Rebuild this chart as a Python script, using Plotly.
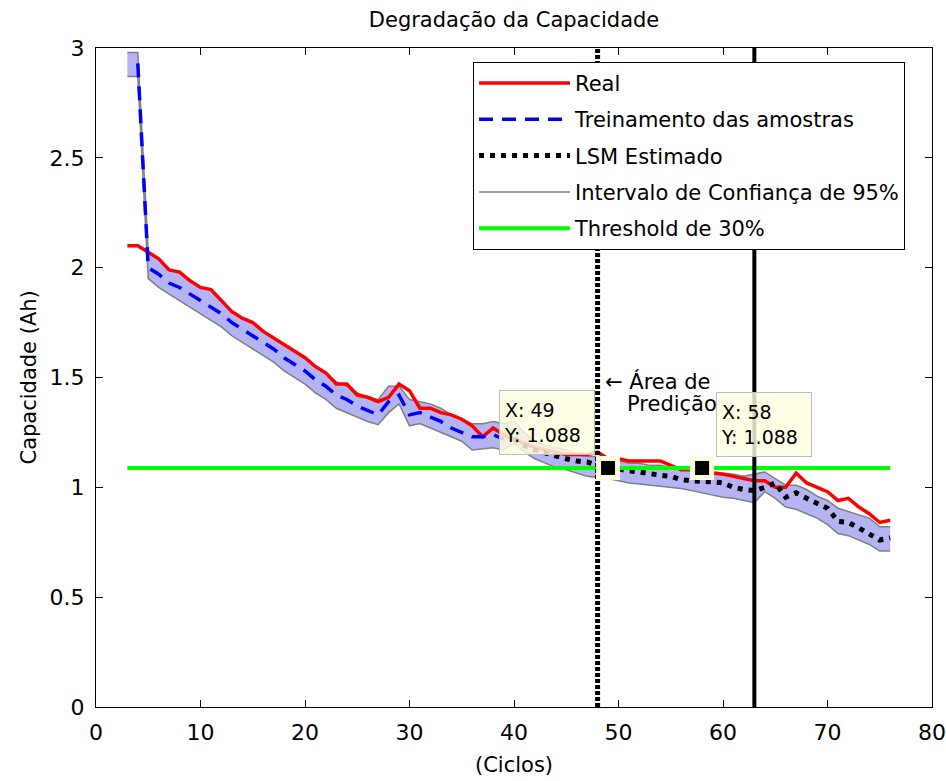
import plotly.graph_objects as go

# ---------------- data ----------------
cycles = list(range(3, 77))

real_cap = [2.10, 2.10, 2.07, 2.04, 1.99, 1.98, 1.94, 1.91, 1.90, 1.85,
            1.80, 1.77, 1.75, 1.71, 1.68, 1.65, 1.62, 1.59, 1.55, 1.52,
            1.47, 1.47, 1.42, 1.41, 1.39, 1.41, 1.47, 1.44, 1.36, 1.36,
            1.34, 1.33, 1.31, 1.28, 1.23, 1.27, 1.24, 1.22, 1.20, 1.18,
            1.17, 1.16, 1.15, 1.15, 1.15, 1.16, 1.13, 1.13, 1.12, 1.12,
            1.12, 1.12, 1.10, 1.08, 1.08, 1.07, 1.065, 1.06, 1.05, 1.04,
            1.03, 1.03, 1.00, 1.00, 1.065, 1.02, 1.00, 0.98, 0.94, 0.95,
            0.91, 0.88, 0.84, 0.85]

train_cycles = list(range(4, 40))
train_cap = [2.93, 2.00, 1.97, 1.93, 1.91, 1.88, 1.85, 1.82, 1.79, 1.75,
             1.72, 1.69, 1.66, 1.63, 1.59, 1.56, 1.53, 1.49, 1.46, 1.42,
             1.40, 1.37, 1.35, 1.33, 1.39, 1.42, 1.33, 1.34, 1.32, 1.30,
             1.27, 1.25, 1.23, 1.23, 1.24, 1.22]

lsm_cycles = list(range(40, 77))
lsm_cap = [1.22, 1.19, 1.17, 1.155, 1.14, 1.13, 1.12, 1.115, 1.10, 1.09,
           1.085, 1.075, 1.07, 1.06, 1.055, 1.05, 1.035, 1.03, 1.03, 1.025,
           1.02, 1.00, 0.99, 0.985, 1.00, 1.02, 0.955, 0.975, 0.95, 0.93,
           0.905, 0.845, 0.84, 0.815, 0.79, 0.76, 0.77]

ci_upper = [2.98, 2.98, 2.07, 2.04, 1.99, 1.98, 1.94, 1.91, 1.90, 1.85,
            1.80, 1.77, 1.75, 1.71, 1.68, 1.65, 1.62, 1.59, 1.55, 1.52,
            1.48, 1.46, 1.43, 1.41, 1.40, 1.46, 1.46, 1.40, 1.39, 1.38,
            1.36, 1.33, 1.31, 1.29, 1.29, 1.30, 1.29, 1.30, 1.25, 1.21,
            1.19, 1.18, 1.17, 1.15, 1.14, 1.14, 1.13, 1.12, 1.11, 1.11,
            1.10, 1.10, 1.09, 1.08, 1.08, 1.08, 1.07, 1.065, 1.06, 1.05,
            1.06, 1.07, 1.04, 1.01, 1.01, 0.99, 0.96, 0.94, 0.905, 0.89,
            0.875, 0.86, 0.82, 0.82]

ci_lower = [2.87, 2.87, 1.95, 1.91, 1.88, 1.85, 1.82, 1.79, 1.76, 1.73,
            1.69, 1.66, 1.63, 1.60, 1.57, 1.53, 1.50, 1.47, 1.43, 1.40,
            1.36, 1.34, 1.32, 1.30, 1.285, 1.34, 1.38, 1.28, 1.29, 1.27,
            1.25, 1.23, 1.21, 1.17, 1.175, 1.18, 1.17, 1.20, 1.16, 1.13,
            1.11, 1.09, 1.08, 1.065, 1.05, 1.045, 1.04, 1.03, 1.02, 1.015,
            1.01, 1.005, 1.00, 0.995, 0.985, 0.975, 0.965, 0.955, 0.95, 0.94,
            0.93, 0.98, 0.95, 0.91, 0.90, 0.88, 0.86, 0.83, 0.79, 0.78,
            0.76, 0.74, 0.71, 0.71]

threshold_x = [3, 76]
threshold_y = [1.088, 1.088]

pred_start = 48
pred_end = 63
tip_x = [49, 58]
tip_y = [1.088, 1.088]

x_ticks = [0, 10, 20, 30, 40, 50, 60, 70, 80]
y_ticks = [0, 0.5, 1, 1.5, 2, 2.5, 3]
y_ticktext = ["0", "0.5", "1", "1.5", "2", "2.5", "3"]

FONT = "DejaVu Sans"
FS = 21

fig = go.Figure()

# confidence band
fig.add_trace(go.Scatter(x=cycles, y=ci_lower, mode="lines",
                         line=dict(color="#808080", width=1.5),
                         showlegend=False, hoverinfo="skip"))
fig.add_trace(go.Scatter(x=cycles, y=ci_upper, mode="lines", fill="tonexty",
                         fillcolor="#b4b4f5",
                         line=dict(color="#808080", width=1.5),
                         showlegend=False, hoverinfo="skip"))

fig.add_trace(go.Scatter(x=cycles, y=real_cap, mode="lines", name="Real",
                         line=dict(color="#ff0000", width=3.5),
                         legendgroup="a", legendrank=1))
fig.add_trace(go.Scatter(x=train_cycles, y=train_cap, mode="lines",
                         name="Treinamento das amostras",
                         line=dict(color="#0000ff", width=3.5, dash="14px,9px"),
                         legendgroup="b", legendrank=2))
fig.add_trace(go.Scatter(x=lsm_cycles, y=lsm_cap, mode="lines",
                         name="LSM Estimado",
                         line=dict(color="#000000", width=5, dash="5px,6px"),
                         legendgroup="c", legendrank=3))
# legend proxy for the band
fig.add_trace(go.Scatter(x=[None], y=[None], mode="lines",
                         name="Intervalo de Confiança de 95%",
                         line=dict(color="#808080", width=1.5),
                         legendgroup="d", legendrank=4))
fig.add_trace(go.Scatter(x=threshold_x, y=threshold_y, mode="lines",
                         name="Threshold de 30%",
                         line=dict(color="#00ff00", width=4),
                         legendgroup="e", legendrank=5))

# prediction-area boundaries
fig.add_trace(go.Scatter(x=[pred_start, pred_start], y=[0, 3], mode="lines",
                         line=dict(color="#000000", width=5, dash="4px,2px"),
                         showlegend=False, hoverinfo="skip"))
fig.add_trace(go.Scatter(x=[pred_end, pred_end], y=[0, 3], mode="lines",
                         line=dict(color="#000000", width=4),
                         showlegend=False, hoverinfo="skip"))

# data tip markers
fig.add_trace(go.Scatter(x=tip_x, y=tip_y, mode="markers",
                         marker=dict(symbol="square", size=19, color="#000000",
                                     line=dict(color="#fffbe0", width=5)),
                         showlegend=False, hoverinfo="skip"))

annotations = [
    dict(text="(Ciclos)", xref="paper", yref="paper", x=0.5, y=-0.088,
         xanchor="center", yanchor="middle", showarrow=False,
         font=dict(family=FONT, size=FS, color="black")),
    dict(text="Capacidade (Ah)", xref="paper", yref="paper", x=-0.0813, y=0.5,
         xanchor="center", yanchor="middle", textangle=-90, showarrow=False,
         font=dict(family=FONT, size=FS, color="black")),
    dict(text="← Área de", x=48.5, y=1.48, xanchor="left", yanchor="middle",
         showarrow=False, font=dict(family=FONT, size=FS, color="black")),
    dict(text="Predição", x=50.6, y=1.379, xanchor="left", yanchor="middle",
         showarrow=False, font=dict(family=FONT, size=FS, color="black")),
]
for tx, ty, left, top in [(tip_x[0], tip_y[0], 38.56, 1.443),
                          (tip_x[1], tip_y[1], 59.33, 1.434)]:
    annotations.append(dict(
        text=f"X: {tx}<br>Y: {ty:.3f}", x=left, y=top, xanchor="left",
        yanchor="top", showarrow=False, align="left", valign="middle",
        width=86, height=55, borderpad=4, borderwidth=1,
        bordercolor="#bdbdbd", bgcolor="rgba(255,255,225,0.82)",
        font=dict(family=FONT, size=FS - 2, color="black")))

axis_common = dict(showline=True, linecolor="black", linewidth=1,
                   mirror="allticks", ticks="inside", ticklen=7,
                   tickcolor="black", showgrid=False, zeroline=False,
                   automargin=False,
                   tickfont=dict(family=FONT, size=FS + 1, color="black"))

fig.update_layout(
    width=946, height=781, autosize=False,
    margin=dict(l=96, r=14, t=48, b=74, autoexpand=False),
    paper_bgcolor="white", plot_bgcolor="white",
    title=dict(text="Degradação da Capacidade", x=0.5434, xanchor="center",
               y=1 - 20 / 781, yanchor="middle",
               font=dict(family=FONT, size=FS, color="black")),
    xaxis=dict(range=[0, 80], tickvals=x_ticks, ticklabelstandoff=6,
               **axis_common),
    yaxis=dict(range=[0, 3], tickvals=y_ticks, ticktext=y_ticktext,
               ticklabelstandoff=6, **axis_common),
    legend=dict(x=0.451, y=0.979, xanchor="left", yanchor="top",
                bgcolor="white", bordercolor="black", borderwidth=1,
                font=dict(family=FONT, size=FS, color="black"),
                traceorder="grouped", tracegroupgap=6, itemwidth=91),
    annotations=annotations,
    hovermode=False,
)

fig.write_html("out.html")
